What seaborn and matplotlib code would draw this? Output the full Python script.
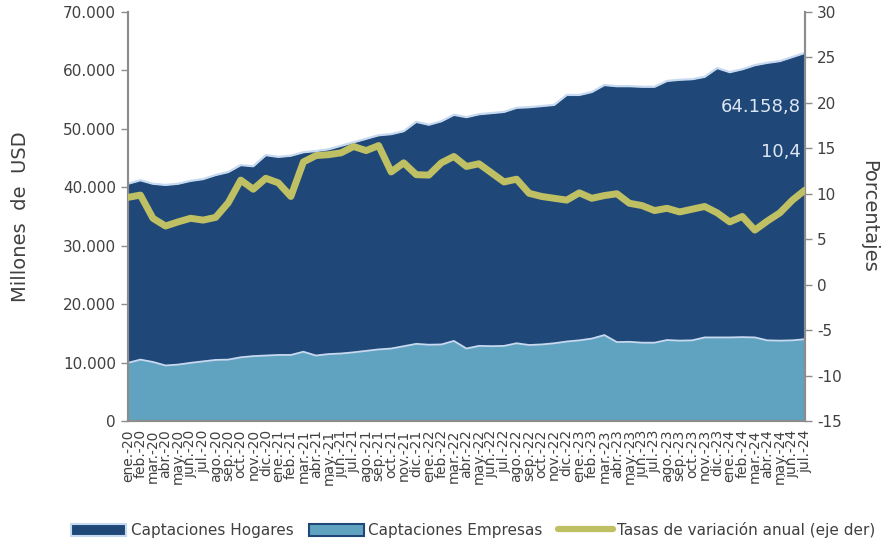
#!/usr/bin/env python3
"""Captaciones hogares / empresas (stacked area) + tasa de variación anual."""

import matplotlib

matplotlib.use("Agg")
import matplotlib.pyplot as plt
import matplotlib.ticker as mticker
import numpy as np
import pandas as pd
import seaborn as sns
from matplotlib.lines import Line2D
from matplotlib.patches import Patch

MONTHS = ["ene", "feb", "mar", "abr", "may", "jun", "jul", "ago", "sep", "oct", "nov", "dic"]
YEARS = ["20", "21", "22", "23", "24"]
LABELS = [f"{m}.-{y}" for y in YEARS for m in MONTHS][:55]

# millions of USD (total stacked = hogares + empresas)
TOTAL = [
    40.6, 41.2, 40.6, 40.4, 40.6, 41.1, 41.4, 42.1, 42.6, 43.8, 43.6, 45.5,
    45.2, 45.4, 46.0, 46.2, 46.5, 47.1, 47.7, 48.3, 48.9, 49.1, 49.6, 51.2,
    50.7, 51.3, 52.4, 52.0, 52.5, 52.7, 52.9, 53.6, 53.7, 53.9, 54.1, 55.8,
    55.8, 56.3, 57.5, 57.3, 57.3, 57.2, 57.2, 58.2, 58.4, 58.5, 58.9, 60.4,
    59.7, 60.2, 60.9, 61.3, 61.6, 62.3, 63.0,
]
EMPRESAS = [
    9.95, 10.5, 10.1, 9.5, 9.65, 9.95, 10.2, 10.45, 10.5, 10.9, 11.1, 11.2,
    11.3, 11.3, 11.85, 11.2, 11.45, 11.55, 11.75, 12.0, 12.25, 12.4, 12.8, 13.2,
    13.05, 13.1, 13.7, 12.4, 12.85, 12.8, 12.85, 13.3, 13.0, 13.1, 13.3, 13.6,
    13.8, 14.1, 14.7, 13.5, 13.55, 13.4, 13.4, 13.85, 13.75, 13.8, 14.3, 14.3,
    14.3, 14.35, 14.3, 13.8, 13.75, 13.8, 14.0,
]
TASA = [
    9.6, 9.85, 7.3, 6.45, 6.9, 7.3, 7.1, 7.4, 9.0, 11.5, 10.5, 11.7,
    11.2, 9.7, 13.5, 14.2, 14.3, 14.5, 15.2, 14.75, 15.3, 12.4, 13.4, 12.1,
    12.05, 13.4, 14.1, 13.0, 13.3, 12.3, 11.3, 11.6, 10.05, 9.7, 9.5, 9.3,
    10.1, 9.5, 9.8, 10.0, 8.95, 8.7, 8.15, 8.4, 8.0, 8.3, 8.6, 7.9,
    6.9, 7.5, 6.0, 7.0, 7.9, 9.3, 10.4,
]
LAST_TOTAL_LABEL = "64.158,8"
LAST_TASA_LABEL = "10,4"

DARK = "#1f4878"
LIGHT = "#60a3c0"
EDGE = "#c6d9f0"
OLIVE = "#bfbf64"
TXT = "#404040"
AX = "#8c8c8c"

sns.set_theme(style="white")
plt.rcParams["font.family"] = ["DejaVu Sans"]
plt.rcParams["axes.unicode_minus"] = False

df = pd.DataFrame(
    {
        "x": np.arange(len(LABELS)),
        "empresas": np.array(EMPRESAS) * 1000,
        "total": np.array(TOTAL) * 1000,
        "tasa": TASA,
    }
)

fig = plt.figure(figsize=(8.88, 5.49), dpi=100)
ax = fig.add_axes([0.144, 0.2332, 0.7625, 0.745])

ax.fill_between(df["x"], 0, df["empresas"], color=LIGHT, lw=0, zorder=1)
ax.fill_between(df["x"], df["empresas"], df["total"], color=DARK, lw=0, zorder=1)
ax.plot(df["x"], df["empresas"], color=EDGE, lw=1.3, zorder=2)
ax.plot(df["x"], df["total"], color=EDGE, lw=1.6, zorder=2)

ax.set_xlim(0, len(LABELS) - 1)
ax.set_ylim(0, 70000)
ax.yaxis.set_major_locator(mticker.MultipleLocator(10000))
ax.yaxis.set_major_formatter(
    mticker.FuncFormatter(lambda v, _: f"{int(v):,}".replace(",", "."))
)
ax.set_xticks(df["x"])
ax.set_xticklabels(LABELS, rotation=90, fontsize=10, color=TXT)
ax.tick_params(axis="x", length=4, width=1, color=AX, pad=2)
ax.tick_params(axis="y", labelsize=11, colors=TXT, length=5, width=1, direction="out")
ax.tick_params(axis="y", color=AX)
ax.set_ylabel("Millones  de  USD", fontsize=14, color=TXT, labelpad=24)

ax.spines["top"].set_visible(False)
for side in ["left", "bottom", "right"]:
    ax.spines[side].set_color(AX)
    ax.spines[side].set_linewidth(1.5)

ax2 = ax.twinx()
sns.lineplot(data=df, x="x", y="tasa", ax=ax2, color=OLIVE, lw=5,
             solid_joinstyle="round", solid_capstyle="round", zorder=3)
ax2.set_ylim(-15, 30)
ax2.yaxis.set_major_locator(mticker.MultipleLocator(5))
ax2.yaxis.set_major_formatter(mticker.FuncFormatter(lambda v, _: f"{int(v)}"))
ax2.tick_params(axis="y", labelsize=11, colors=TXT, length=5, width=1)
ax2.tick_params(axis="y", color=AX)
ax2.set_ylabel("Porcentajes", fontsize=14, color=TXT, rotation=270, labelpad=26)
ax2.set_xlabel("")
ax2.spines["top"].set_visible(False)
for side in ["left", "bottom", "right"]:
    ax2.spines[side].set_color(AX)
    ax2.spines[side].set_linewidth(1.5)

ax.text(53.7, 53700, LAST_TOTAL_LABEL, ha="right", va="center", fontsize=13, color="#dde6f2")
ax2.text(53.7, 14.6, LAST_TASA_LABEL, ha="right", va="center", fontsize=13, color="#dde6f2")

handles = [
    Patch(facecolor=DARK, edgecolor=EDGE, lw=1.5),
    Patch(facecolor=LIGHT, edgecolor=DARK, lw=1.5),
    Line2D([0], [0], color=OLIVE, lw=4.5),
]
fig.legend(
    handles,
    ["Captaciones Hogares", "Captaciones Empresas", "Tasas de variación anual (eje der)"],
    loc="lower center",
    bbox_to_anchor=(0.533, -0.005),
    ncol=3,
    frameon=False,
    fontsize=11,
    handlelength=3.6,
    handleheight=0.8,
    columnspacing=1.0,
    handletextpad=0.3,
    labelcolor=TXT,
)

fig.savefig("out.png", dpi=100)
